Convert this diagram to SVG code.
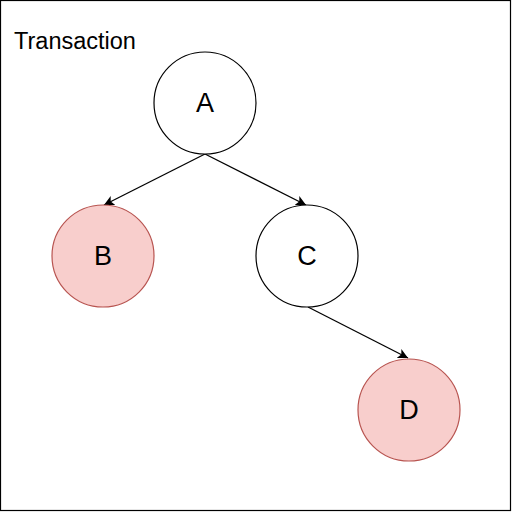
<svg xmlns="http://www.w3.org/2000/svg" width="512" height="512" viewBox="0 0 512 512">
<style>
.n{stroke-width:1.2}
.w{fill:#ffffff;stroke:#000000}
.r{fill:#f8cecc;stroke:#b85450}
.t{font-family:"Liberation Sans",Arial,sans-serif;fill:#000;}
.lbl{font-size:27px;text-anchor:middle;dominant-baseline:central}
.e{stroke:#000;stroke-width:1.3;fill:none;marker-end:url(#ar)}
</style>
<defs>
<marker id="ar" markerUnits="userSpaceOnUse" markerWidth="14" markerHeight="12" refX="10" refY="5" orient="auto" viewBox="0 0 14 10">
<path d="M0,0 L10,5 L0,10 L2.5,5 Z" fill="#000"/>
</marker>
</defs>
<rect x="0.5" y="0.5" width="510" height="510" fill="#fff" stroke="#000" stroke-width="1.2"/>
<text class="t" x="14" y="49" font-size="23.5">Transaction</text>
<g id="edges">
<line class="e" x1="205" y1="154" x2="104" y2="205"/>
<line class="e" x1="205" y1="154" x2="306" y2="205"/>
<line class="e" x1="308" y1="307" x2="408" y2="358"/>
</g>
<g id="A"><circle class="n w" cx="205" cy="103" r="51"/><text class="t lbl" x="205" y="103">A</text></g>
<g id="B"><circle class="n r" cx="103" cy="256" r="51"/><text class="t lbl" x="103" y="256">B</text></g>
<g id="C"><circle class="n w" cx="307" cy="256" r="51"/><text class="t lbl" x="307" y="256">C</text></g>
<g id="D"><circle class="n r" cx="409" cy="410" r="51"/><text class="t lbl" x="409" y="410">D</text></g>
</svg>
